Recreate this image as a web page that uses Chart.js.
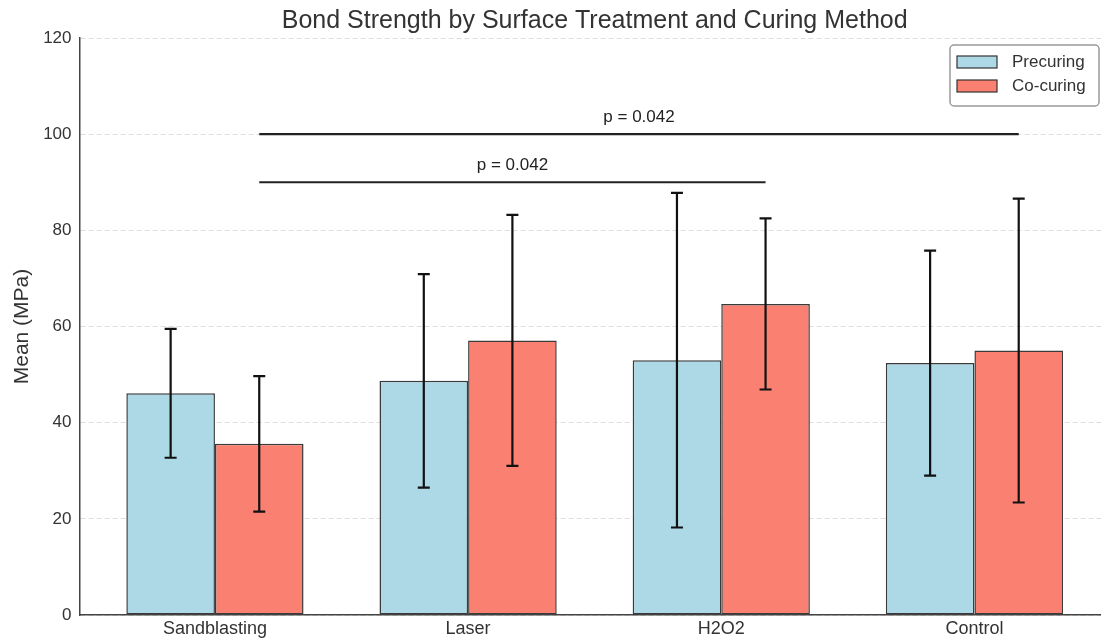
<!DOCTYPE html>
<html>
<head>
  <title>Bond Strength by Surface Treatment and Curing Method</title>
  <script src="https://cdn.jsdelivr.net/npm/chart.js"></script>
  <style>
    body { margin: 0; background: #fff; overflow: hidden; }
    #wrap { width: 1101px; height: 639px; }
  </style>
</head>
<body>
  <div id="wrap"><canvas id="chart"></canvas></div>

  <script>
    // data (MPa)
    const treatments = ["Sandblasting", "Laser", "H2O2", "Control"];
    const precuring = [46.1, 48.7, 53.0, 52.4];
    const precuringSd = [13.4, 22.2, 34.8, 23.4];
    const cocuring = [35.6, 57.1, 64.7, 55.0];
    const cocuringSd = [14.1, 26.1, 17.8, 31.6];
    const yTicks = [0, 20, 40, 60, 80, 100, 120];
    // significance brackets: from bar, to bar (Co-curing of each group), height, label
    const sigFrom = [0, 0];
    const sigTo = [2, 3];
    const sigHeight = [90, 100];
    const sigLabel = ["p = 0.042", "p = 0.042"];

    const FONT = "'Liberation Sans', Arial, sans-serif";
    const TEXT = "#333";

    const points = vals => vals.map((v, i) => ({ x: i, y: v }));

    // error bars drawn on top of the bars
    const errorBars = {
      id: "errorBars",
      afterDatasetsDraw(chart) {
        const ctx = chart.ctx;
        const y = chart.scales.y;
        ctx.save();
        ctx.strokeStyle = "#111";
        ctx.lineWidth = 2.2;
        chart.data.datasets.forEach((ds, d) => {
          const meta = chart.getDatasetMeta(d);
          meta.data.forEach((bar, i) => {
            const top = y.getPixelForValue(ds.data[i].y + ds.sd[i]);
            const bot = y.getPixelForValue(ds.data[i].y - ds.sd[i]);
            ctx.beginPath();
            ctx.moveTo(bar.x, top); ctx.lineTo(bar.x, bot);
            ctx.moveTo(bar.x - 6, top); ctx.lineTo(bar.x + 6, top);
            ctx.moveTo(bar.x - 6, bot); ctx.lineTo(bar.x + 6, bot);
            ctx.stroke();
          });
        });
        ctx.restore();
      }
    };

    // p-value lines between co-curing bars
    const sigLines = {
      id: "sigLines",
      afterDatasetsDraw(chart) {
        const ctx = chart.ctx;
        const y = chart.scales.y;
        const co = chart.getDatasetMeta(1).data;
        ctx.save();
        ctx.strokeStyle = "#222";
        ctx.lineWidth = 2.2;
        ctx.fillStyle = "#222";
        ctx.font = "17px " + FONT;
        ctx.textAlign = "center";
        ctx.textBaseline = "alphabetic";
        sigHeight.forEach((h, k) => {
          const x1 = co[sigFrom[k]].x, x2 = co[sigTo[k]].x;
          const py = y.getPixelForValue(h);
          ctx.beginPath();
          ctx.moveTo(x1, py); ctx.lineTo(x2, py);
          ctx.stroke();
          ctx.fillText(sigLabel[k], (x1 + x2) / 2, y.getPixelForValue(h + 2.5));
        });
        ctx.restore();
      }
    };

    // title centred on the axes, legend box in the upper right
    const decor = {
      id: "decor",
      afterDraw(chart) {
        const ctx = chart.ctx;
        const area = chart.chartArea;
        const x = chart.scales.x;
        ctx.save();
        ctx.fillStyle = TEXT;
        ctx.font = "25px " + FONT;
        ctx.textAlign = "center";
        ctx.textBaseline = "middle";
        ctx.fillText("Bond Strength by Surface Treatment and Curing Method", x.getPixelForValue(1.5), 21);

        const bx = area.right - 151, by = area.top + 7, bw = 149, bh = 61;
        ctx.fillStyle = "rgba(255,255,255,0.85)";
        ctx.strokeStyle = "#999";
        ctx.lineWidth = 1.5;
        ctx.beginPath();
        ctx.roundRect(bx, by, bw, bh, 4);
        ctx.fill();
        ctx.stroke();
        ctx.font = "17px " + FONT;
        ctx.textAlign = "left";
        chart.data.datasets.forEach((ds, d) => {
          const cy = by + 17 + d * 24;
          ctx.fillStyle = ds.backgroundColor;
          ctx.fillRect(bx + 7, cy - 6, 40, 12);
          ctx.strokeStyle = "#333";
          ctx.lineWidth = 1.2;
          ctx.strokeRect(bx + 7, cy - 6, 40, 12);
          ctx.fillStyle = TEXT;
          ctx.fillText(ds.label, bx + 62, cy);
        });
        ctx.restore();
      }
    };

    new Chart(document.getElementById("chart"), {
      type: "bar",
      data: {
        datasets: [
          { label: "Precuring", data: points(precuring), sd: precuringSd,
            backgroundColor: "#ADD8E6", borderColor: "#3a3a3a", borderWidth: 1.5, borderSkipped: false },
          { label: "Co-curing", data: points(cocuring), sd: cocuringSd,
            backgroundColor: "#FA8072", borderColor: "#3a3a3a", borderWidth: 1.5, borderSkipped: false }
        ]
      },
      options: {
        responsive: true,
        maintainAspectRatio: false,
        animation: false,
        categoryPercentage: 0.7,
        barPercentage: 1.0,
        layout: { padding: { top: 38, left: 0, right: 0, bottom: 0 } },
        plugins: {
          legend: { display: false },
          title: { display: false },
          tooltip: { enabled: false }
        },
        scales: {
          x: {
            type: "linear",
            offset: false,
            min: -0.535,
            max: 3.5,
            grid: { display: false, drawTicks: false, offset: false },
            border: { display: true, color: "#444", width: 1.5 },
            afterBuildTicks: scale => { scale.ticks = treatments.map((_, i) => ({ value: i })); },
            afterFit: scale => { scale.height = 24; },
            ticks: {
              padding: 3,
              color: TEXT,
              font: { family: FONT, size: 18 },
              callback: v => treatments[v]
            }
          },
          y: {
            min: 0,
            max: 120,
            afterBuildTicks: scale => { scale.ticks = yTicks.map(v => ({ value: v })); },
            afterFit: scale => { scale.width = 79.5; },
            grid: { color: "#dcdcdc", lineWidth: 1, drawTicks: false },
            border: { display: true, color: "#444", width: 1.5, dash: [5, 3] },
            ticks: { padding: 8, color: TEXT, font: { family: FONT, size: 17 } },
            title: {
              display: true,
              text: "Mean (MPa)",
              color: TEXT,
              font: { family: FONT, size: 21 },
              padding: { top: 10, bottom: 0 }
            }
          }
        }
      },
      plugins: [errorBars, sigLines, decor]
    });
  </script>
</body>
</html>
